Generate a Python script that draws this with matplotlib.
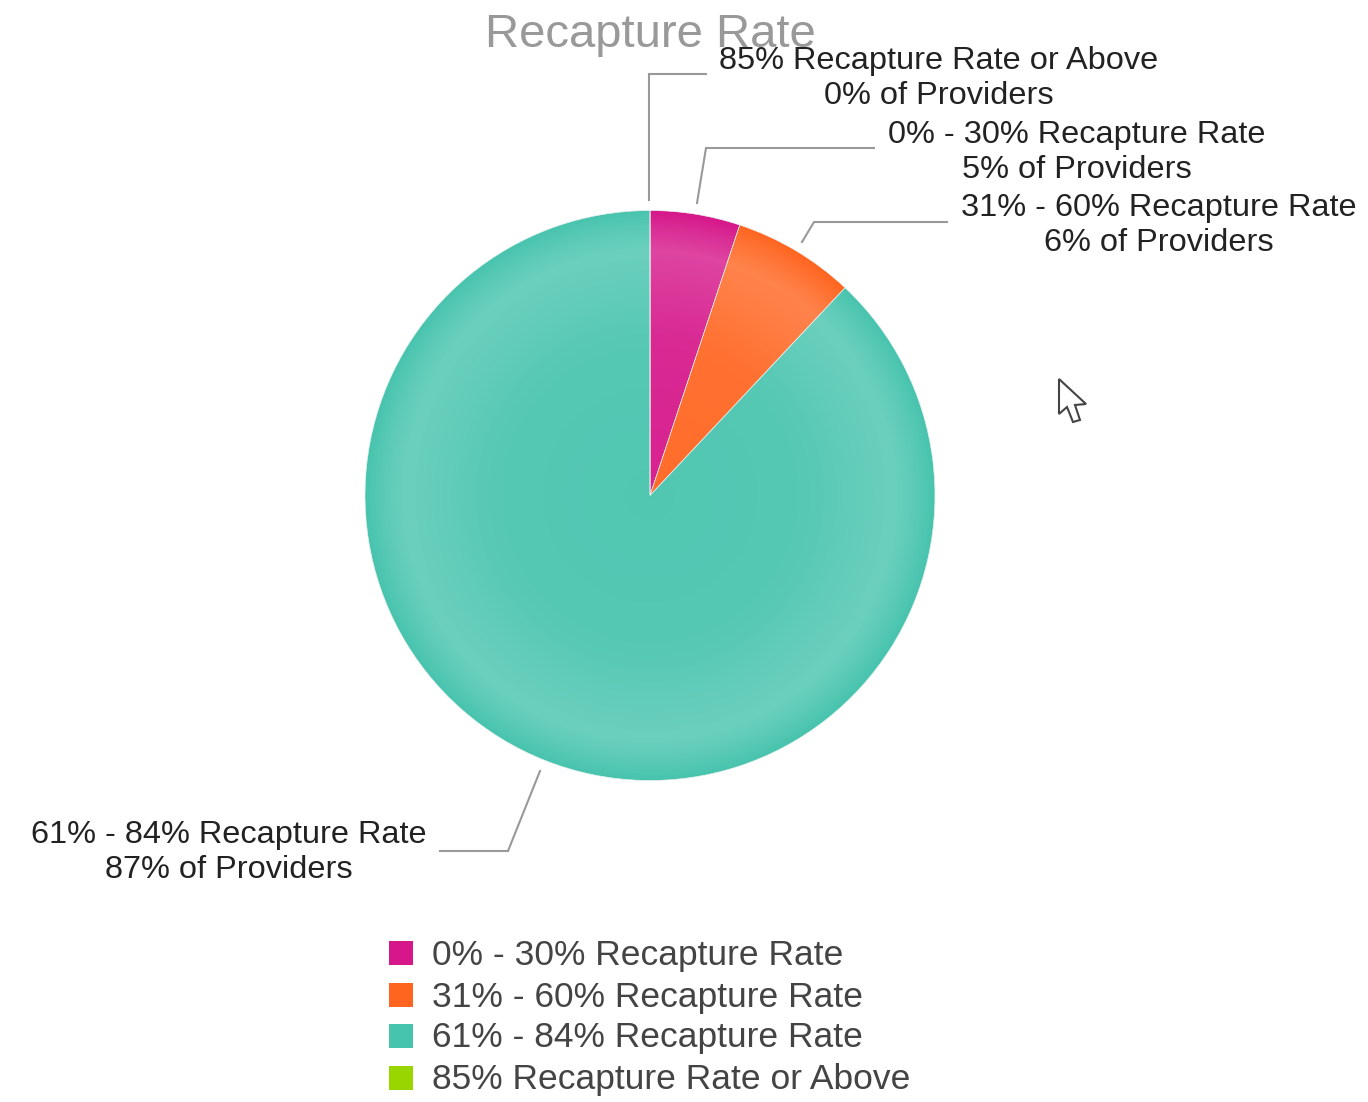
import numpy as np
import matplotlib
matplotlib.use('Agg')
import matplotlib.pyplot as plt
from matplotlib.patches import Circle, Polygon, Rectangle

plt.rcParams['font.family'] = ['Liberation Sans', 'DejaVu Sans']

# data
categories = ['0% - 30% Recapture Rate', '31% - 60% Recapture Rate',
              '61% - 84% Recapture Rate', '85% Recapture Rate or Above']
slice_values = [5.1, 6.9, 88.0, 0.0]
provider_labels = ['5% of Providers', '6% of Providers', '87% of Providers', '0% of Providers']
colors = ['#D6178A', '#FF6520', '#48C4AE', '#99D600']

W, H = 1368, 1102
fig = plt.figure(figsize=(W / 100, H / 100), dpi=100)
ax = fig.add_axes([0, 0, 1, 1])


def py(y):
    # pixel row -> data y
    return H - y


# pie
cx, cy, rad = 650, py(495.5), 285
ax.pie(slice_values, colors=colors, startangle=90, counterclock=False,
       center=(cx, cy), radius=rad,
       wedgeprops=dict(edgecolor='#E8F0EE', linewidth=0.5), frame=True)

# soft radial highlight on top of the slices
n = 700
xx, yy = np.meshgrid(np.linspace(-1, 1, n), np.linspace(-1, 1, n))
rr = np.sqrt(xx ** 2 + yy ** 2)
alpha = np.interp(rr, [0, 0.55, 0.86, 0.93, 1.0], [0.05, 0.08, 0.20, 0.11, 0.0])
shade = np.ones((n, n, 4))
shade[..., 3] = alpha
im = ax.imshow(shade, extent=(cx - rad, cx + rad, cy - rad, cy + rad), zorder=3, origin='lower')
im.set_clip_path(Circle((cx, cy), rad, transform=ax.transData))

ax.set_xlim(0, W)
ax.set_ylim(0, H)
ax.set_aspect('auto')
ax.axis('off')

# title
ax.text(650, py(35), 'Recapture Rate', fontsize=34, color='#999999', ha='center', va='center', zorder=4)

# data labels with leader lines
label_pos = [(1076.5, 153), (1159, 225.5), (228.5, 853), (938.5, 79)]
leaders = [
    [(874, 148), (706, 148), (697, 203)],
    [(947, 222), (814, 222), (802, 242)],
    [(440, 851), (508, 851), (540, 771)],
    [(706, 74), (649, 74), (649, 200)],
]
for i in [3, 0, 1, 2]:
    pts = leaders[i]
    ax.plot([p[0] for p in pts], [py(p[1]) for p in pts], color='#999999', lw=1.5, zorder=5,
            solid_joinstyle='miter')
    x, y = label_pos[i]
    ax.text(x, py(y - 17.5), categories[i], fontsize=23.4, color='#222222', ha='center', va='center', zorder=6)
    ax.text(x, py(y + 17.5), provider_labels[i], fontsize=23.4, color='#222222', ha='center', va='center', zorder=6)

# legend
legend_rows = [953, 995, 1036, 1078]
for name, col, row in zip(categories, colors, legend_rows):
    ax.add_patch(Rectangle((389, py(row + 12)), 24, 24, facecolor=col, edgecolor='none', zorder=4))
    ax.text(432.5, py(row + 2), name, fontsize=25.5, color='#444444', ha='left', va='center', zorder=4)

# mouse pointer from the screenshot
cursor = [(1059, 379), (1059, 414), (1067, 407), (1073, 422), (1080, 420), (1075, 405), (1086, 404)]
ax.add_patch(Polygon([(x, py(y)) for x, y in cursor], closed=True, facecolor='white',
                     edgecolor='#444444', lw=1.5, zorder=4))

fig.savefig('out.png', dpi=100)
